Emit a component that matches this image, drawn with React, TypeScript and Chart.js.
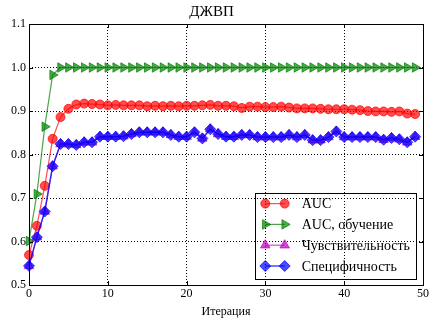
import React, { useEffect, useRef } from 'react';
import { Chart, registerables } from 'chart.js';

Chart.register(...registerables);

// ---- data -----------------------------------------------------------------
const ITERATIONS = [
  0, 1, 2, 3, 4, 5, 6, 7, 8, 9, 10, 11, 12, 13, 14, 15, 16, 17, 18, 19, 20, 21, 22, 23, 24,
  25, 26, 27, 28, 29, 30, 31, 32, 33, 34, 35, 36, 37, 38, 39, 40, 41, 42, 43, 44, 45, 46, 47, 48, 49,
];

const AUC = [
  0.569, 0.636, 0.728, 0.836, 0.886, 0.905, 0.915, 0.917, 0.916, 0.915,
  0.913, 0.914, 0.913, 0.913, 0.913, 0.911, 0.912, 0.911, 0.912, 0.911,
  0.912, 0.912, 0.913, 0.914, 0.912, 0.912, 0.911, 0.907, 0.910, 0.910,
  0.909, 0.909, 0.910, 0.908, 0.906, 0.906, 0.906, 0.905, 0.904, 0.904,
  0.904, 0.903, 0.902, 0.900, 0.899, 0.899, 0.898, 0.899, 0.894, 0.893,
];

const AUC_TRAIN = [
  0.601, 0.709, 0.864, 0.983, 1.0, 1.0, 1.0, 1.0, 1.0, 1.0,
  1.0, 1.0, 1.0, 1.0, 1.0, 1.0, 1.0, 1.0, 1.0, 1.0,
  1.0, 1.0, 1.0, 1.0, 1.0, 1.0, 1.0, 1.0, 1.0, 1.0,
  1.0, 1.0, 1.0, 1.0, 1.0, 1.0, 1.0, 1.0, 1.0, 1.0,
  1.0, 1.0, 1.0, 1.0, 1.0, 1.0, 1.0, 1.0, 1.0, 1.0,
];

const SENSITIVITY = [
  0.544, 0.610, 0.669, 0.773, 0.824, 0.824, 0.822, 0.828, 0.828, 0.841,
  0.841, 0.841, 0.842, 0.847, 0.851, 0.851, 0.851, 0.851, 0.845, 0.841,
  0.841, 0.851, 0.837, 0.858, 0.847, 0.841, 0.841, 0.845, 0.845, 0.840,
  0.840, 0.840, 0.840, 0.845, 0.840, 0.845, 0.833, 0.833, 0.840, 0.853,
  0.840, 0.840, 0.840, 0.840, 0.840, 0.834, 0.838, 0.835, 0.828, 0.841,
];

const SPECIFICITY = [
  0.544, 0.610, 0.669, 0.773, 0.824, 0.824, 0.822, 0.828, 0.828, 0.841,
  0.841, 0.841, 0.842, 0.847, 0.851, 0.851, 0.851, 0.851, 0.845, 0.841,
  0.841, 0.851, 0.837, 0.858, 0.847, 0.841, 0.841, 0.845, 0.845, 0.840,
  0.840, 0.840, 0.840, 0.845, 0.840, 0.845, 0.833, 0.833, 0.840, 0.853,
  0.840, 0.840, 0.840, 0.840, 0.840, 0.834, 0.838, 0.835, 0.828, 0.841,
];

const SERIES_LABELS = ['AUC', 'AUC, обучение', 'Чувствительность', 'Специфичность'];
const X_TICKS = [0, 10, 20, 30, 40, 50];
const Y_TICKS = [0.5, 0.6, 0.7, 0.8, 0.9, 1.0, 1.1];
const TITLE = 'ДЖВП';
const X_LABEL = 'Итерация';

// ---- styles ---------------------------------------------------------------
const FONT = "'Liberation Serif', 'DejaVu Serif', serif";

type Marker = 'circle' | 'triangleRight' | 'triangleUp' | 'diamond';

const SERIES_STYLE: { color: string; marker: Marker; radius: number; lineWidth: number }[] = [
  { color: 'rgba(255,0,0,0.7)', marker: 'circle', radius: 4.5, lineWidth: 1.2 },
  { color: 'rgba(0,128,0,0.7)', marker: 'triangleRight', radius: 5.5, lineWidth: 1.2 },
  { color: 'rgba(191,0,191,0.7)', marker: 'triangleUp', radius: 5.5, lineWidth: 1.2 },
  { color: 'rgba(0,0,255,0.7)', marker: 'diamond', radius: 5.5, lineWidth: 1.5 },
];

const SERIES_VALUES = [AUC, AUC_TRAIN, SENSITIVITY, SPECIFICITY];

function pointStyleOf(m: Marker): { style: any; rotation: number } {
  switch (m) {
    case 'circle':
      return { style: 'circle', rotation: 0 };
    case 'triangleRight':
      return { style: 'triangle', rotation: 90 };
    case 'triangleUp':
      return { style: 'triangle', rotation: 0 };
    default:
      return { style: 'rectRot', rotation: 0 };
  }
}

function drawMarker(ctx: CanvasRenderingContext2D, m: Marker, x: number, y: number, r: number, color: string) {
  ctx.beginPath();
  if (m === 'circle') {
    ctx.arc(x, y, r, 0, Math.PI * 2);
  } else if (m === 'triangleRight') {
    ctx.moveTo(x + r, y);
    ctx.lineTo(x - r * 0.5, y - r * 0.866);
    ctx.lineTo(x - r * 0.5, y + r * 0.866);
    ctx.closePath();
  } else if (m === 'triangleUp') {
    ctx.moveTo(x, y - r);
    ctx.lineTo(x + r * 0.866, y + r * 0.5);
    ctx.lineTo(x - r * 0.866, y + r * 0.5);
    ctx.closePath();
  } else {
    ctx.moveTo(x - r, y);
    ctx.lineTo(x, y - r);
    ctx.lineTo(x + r, y);
    ctx.lineTo(x, y + r);
    ctx.closePath();
  }
  ctx.fillStyle = color;
  ctx.fill();
  ctx.strokeStyle = color;
  ctx.lineWidth = 1;
  ctx.stroke();
}

// Solid frame around the plot plus inward tick marks on all four sides.
const framePlugin = {
  id: 'frameTicks',
  afterDatasetsDraw(chart: any) {
    const { ctx, chartArea } = chart;
    const { left, right, top, bottom } = chartArea;
    const xs = chart.scales.x;
    const ys = chart.scales.y;
    const len = 4;
    ctx.save();
    ctx.strokeStyle = '#000';
    ctx.lineWidth = 1;
    ctx.beginPath();
    X_TICKS.forEach((v) => {
      const px = Math.round(xs.getPixelForValue(v)) + 0.5;
      ctx.moveTo(px, bottom);
      ctx.lineTo(px, bottom - len);
      ctx.moveTo(px, top);
      ctx.lineTo(px, top + len);
    });
    Y_TICKS.forEach((v) => {
      const py = Math.round(ys.getPixelForValue(v)) + 0.5;
      ctx.moveTo(left, py);
      ctx.lineTo(left + len, py);
      ctx.moveTo(right, py);
      ctx.lineTo(right - len, py);
    });
    ctx.stroke();
    ctx.strokeRect(Math.round(left) + 0.5, Math.round(top) + 0.5, Math.round(right - left), Math.round(bottom - top));
    ctx.restore();
  },
};

// Legend box drawn inside the lower right corner of the plot.
const legendPlugin = {
  id: 'insetLegend',
  afterDraw(chart: any) {
    const { ctx, chartArea } = chart;
    const fontSize = 14;
    ctx.save();
    ctx.font = `${fontSize}px ${FONT}`;
    const maxText = Math.max(...SERIES_LABELS.map((t) => ctx.measureText(t).width));
    const rowGap = 20.8;
    const padLeft = 10;
    const markerSpan = 19.4;
    const textGap = 17;
    const padRight = 6;
    const w = padLeft + markerSpan + textGap + maxText + padRight;
    const h = 11 + rowGap * (SERIES_LABELS.length - 1) + 13;
    const bx = chartArea.right - 7 - w;
    const by = chartArea.bottom - 6 - h;

    ctx.strokeStyle = '#000';
    ctx.lineWidth = 1;
    ctx.strokeRect(Math.round(bx) + 0.5, Math.round(by) + 0.5, Math.round(w), Math.round(h));

    SERIES_LABELS.forEach((label, i) => {
      const st = SERIES_STYLE[i];
      const cy = by + 11 + rowGap * i;
      const x1 = bx + padLeft;
      const x2 = x1 + markerSpan;
      ctx.beginPath();
      ctx.moveTo(x1, cy);
      ctx.lineTo(x2, cy);
      ctx.strokeStyle = st.color;
      ctx.lineWidth = st.lineWidth;
      ctx.stroke();
      drawMarker(ctx, st.marker, x1, cy, st.radius, st.color);
      drawMarker(ctx, st.marker, x2, cy, st.radius, st.color);
      ctx.fillStyle = '#000';
      ctx.textAlign = 'left';
      ctx.textBaseline = 'middle';
      ctx.fillText(label, x2 + textGap, cy + 1);
    });
    ctx.restore();
  },
};

export default function App() {
  const ref = useRef<HTMLCanvasElement>(null);

  useEffect(() => {
    document.body.style.margin = '0';
    const canvas = ref.current;
    if (!canvas) return;

    Chart.defaults.font.family = FONT;
    Chart.defaults.color = '#000';

    const datasets = SERIES_LABELS.map((label, i) => {
      const st = SERIES_STYLE[i];
      const ps = pointStyleOf(st.marker);
      return {
        label,
        data: SERIES_VALUES[i].map((v, k) => ({ x: ITERATIONS[k], y: v })),
        borderColor: st.color,
        backgroundColor: st.color,
        borderWidth: st.lineWidth,
        pointStyle: ps.style,
        rotation: ps.rotation,
        pointRotation: ps.rotation,
        pointRadius: st.radius,
        pointBorderWidth: 1,
        pointBorderColor: st.color,
        pointBackgroundColor: st.color,
        tension: 0,
        clip: false as any,
        order: SERIES_LABELS.length - 1 - i,
      };
    });

    const chart = new Chart(canvas, {
      type: 'line',
      data: { datasets },
      plugins: [framePlugin, legendPlugin],
      options: {
        responsive: false,
        animation: false,
        events: [],
        layout: { padding: { left: 0, right: 10, top: 0, bottom: 0 } },
        plugins: {
          legend: { display: false },
          tooltip: { enabled: false },
          title: {
            display: true,
            text: TITLE,
            color: '#000',
            font: { family: FONT, size: 15, weight: 'normal' as any },
            padding: { top: 3, bottom: 3 },
          },
        },
        scales: {
          x: {
            type: 'linear',
            min: 0,
            max: 50,
            afterFit: (s: any) => {
              s.height = 42;
            },
            ticks: {
              stepSize: 10,
              padding: 2,
              font: { family: FONT, size: 12 },
              color: '#000',
              maxRotation: 0,
            },
            grid: { color: '#000', lineWidth: 1, drawTicks: false },
            border: { display: false, dash: [1, 2] },
            title: {
              display: true,
              text: X_LABEL,
              color: '#000',
              font: { family: FONT, size: 12 },
              padding: { top: 0, bottom: 8 },
            },
          },
          y: {
            type: 'linear',
            min: 0.5,
            max: 1.1,
            afterFit: (s: any) => {
              s.width = 29;
            },
            afterBuildTicks: (s: any) => {
              s.ticks = Y_TICKS.map((v) => ({ value: v }));
            },
            ticks: {
              padding: 3,
              font: { family: FONT, size: 12 },
              color: '#000',
              callback: (v: any) => Number(v).toFixed(1),
            },
            grid: { color: '#000', lineWidth: 1, drawTicks: false },
            border: { display: false, dash: [1, 2] },
          },
        },
      },
    });

    return () => chart.destroy();
  }, []);

  return (
    <div style={{ width: 433, height: 327 }}>
      <canvas ref={ref} width={433} height={327} style={{ display: 'block' }} />
    </div>
  );
}
